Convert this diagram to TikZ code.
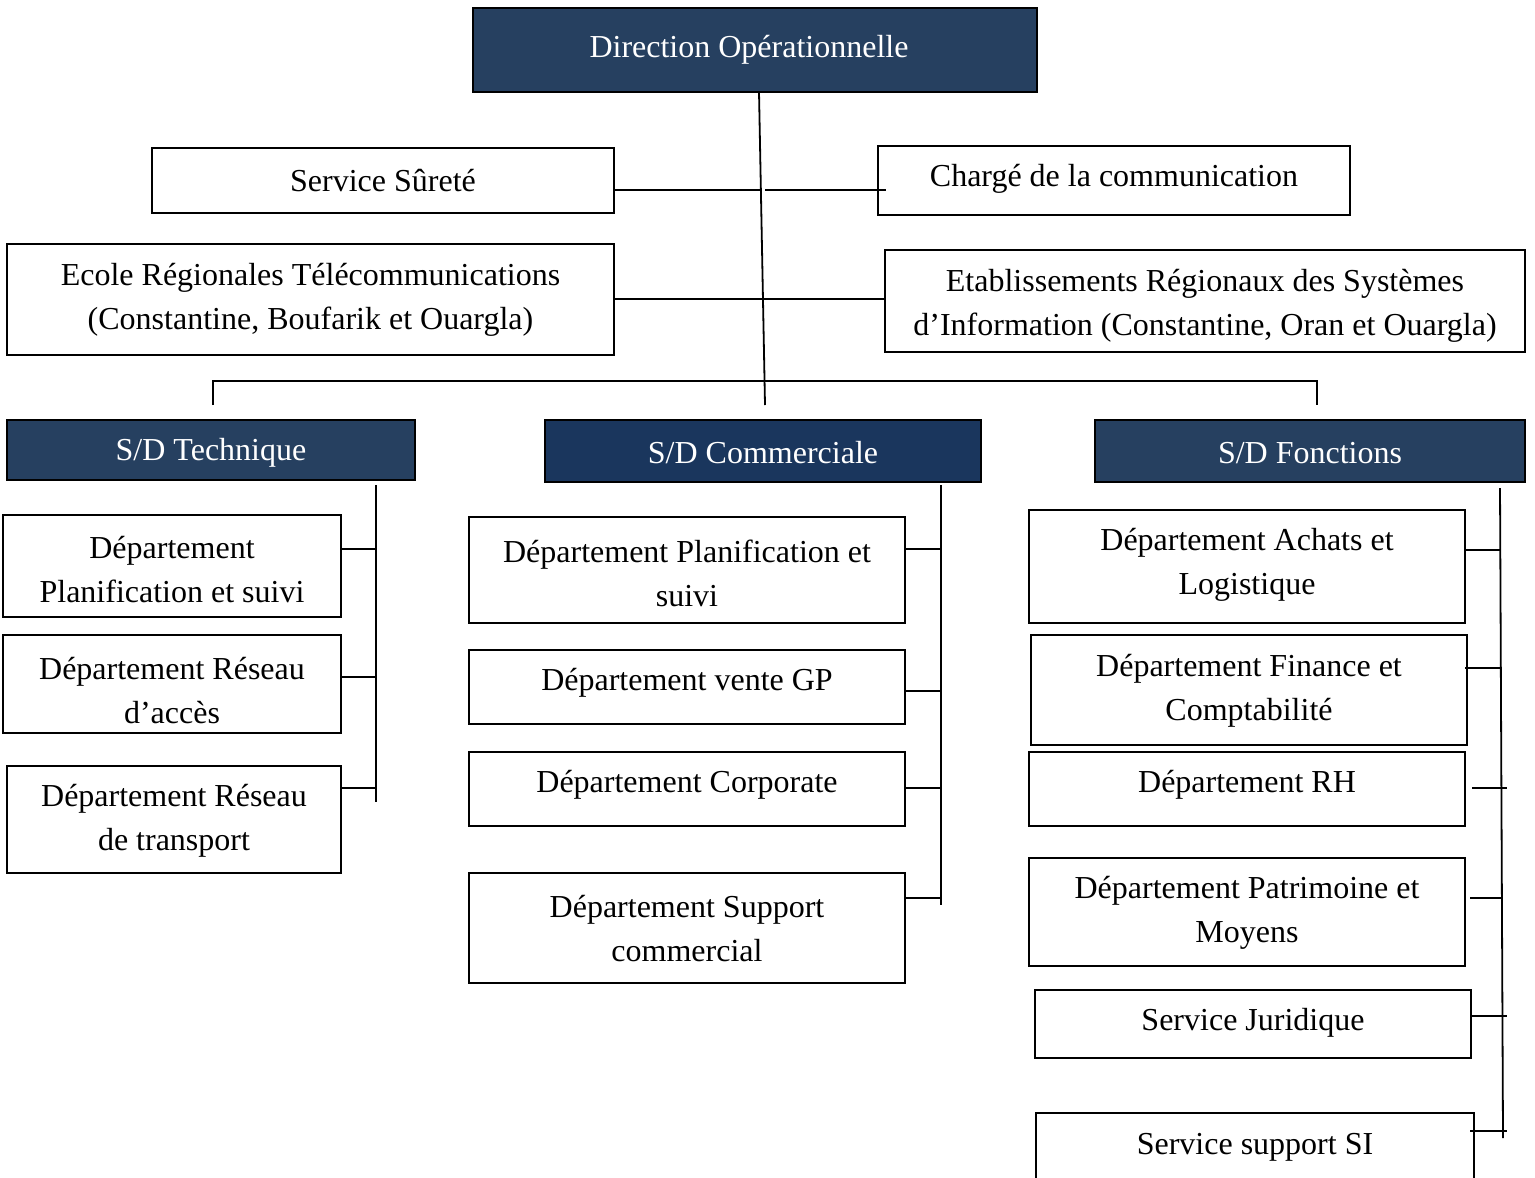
\documentclass[tikz,border=0pt]{standalone}
\usepackage{fontspec}
\setmainfont{Liberation Serif}
\definecolor{dirblue}{RGB}{38,64,96}
\definecolor{comblue}{RGB}{26,54,93}
\tikzset{
  box/.style={draw=black,line width=1pt,fill=white,inner sep=0pt},
  darkbox/.style={box,fill=dirblue},
  txt/.style={align=center,inner sep=0pt,font=\fontsize{16}{22}\selectfont},
  conn/.style={draw=black,line width=0.9pt},
}
% [style]{name}{x1}{y1}{x2}{y2}{text centre y}{text}
\newcommand\bx[8][]{%
  \pgfmathsetmacro\bxcx{(#3+#5)/2}\pgfmathsetmacro\bxcy{(#4+#6)/2}%
  \pgfmathsetmacro\bxw{(#5-#3)*0.5}\pgfmathsetmacro\bxh{(#6-#4)*0.5}%
  \pgfmathsetmacro\bxty{#7+3}%
  \node[box,minimum width=\bxw pt,minimum height=\bxh pt,#1] (#2) at (\bxcx,\bxcy) {};%
  \node[txt,text=\bxtextcol] (#2-t) at (\bxcx+\bxtdx,\bxty) {#8};}
\def\bxtextcol{black}
\def\bxtdx{0}
\begin{document}
\begin{tikzpicture}[x=0.5pt,y=-0.5pt]
\useasboundingbox (0,0) rectangle (1535,1177);
\clip (0,0) rectangle (1535,1177);
% top
\def\bxtextcol{white}
\def\bxtdx{-6}
\bx[darkbox]{dir}{473}{8}{1037}{92}{47}{Direction Opérationnelle}
\def\bxtdx{0}
\bx[darkbox]{sdt}{7}{420}{415}{480}{450}{S/D Technique}
\bx[darkbox,fill=comblue]{sdc}{545}{420}{981}{482}{450}{S/D Commerciale}
\bx[darkbox]{sdf}{1095}{420}{1525}{482}{450}{S/D Fonctions}
\def\bxtextcol{black}
\bx{sur}{152}{148}{614}{213}{178}{Service Sûreté}
\bx{com}{878}{146}{1350}{215}{176}{Chargé de la communication}
\bx{eco}{7}{244}{614}{355}{297}{Ecole Régionales Télécommunications\\(Constantine, Boufarik et Ouargla)}
\bx{eta}{885}{250}{1525}{352}{303}{Etablissements Régionaux des Systèmes\\d’Information (Constantine, Oran et Ouargla)}
% technique
\bx{t1}{3}{515}{341}{617}{567}{Département\\Planification et suivi}
\bx{t2}{3}{635}{341}{733}{688}{Département Réseau\\d’accès}
\bx{t3}{7}{766}{341}{873}{818}{Département Réseau\\de transport}
% commerciale
\bx{c1}{469}{517}{905}{623}{570}{Département Planification et\\suivi}
\bx{c2}{469}{650}{905}{724}{680}{Département vente GP}
\bx{c3}{469}{752}{905}{826}{782}{Département Corporate}
\bx{c4}{469}{873}{905}{983}{926}{Département Support\\commercial}
% fonctions
\bx{f1}{1029}{510}{1465}{623}{562}{Département Achats et\\Logistique}
\bx{f2}{1031}{635}{1467}{745}{688}{Département Finance et\\Comptabilité}
\bx{f3}{1029}{752}{1465}{826}{782}{Département RH}
\bx{f4}{1029}{858}{1465}{966}{910}{Département Patrimoine et\\Moyens}
\bx{f5}{1035}{990}{1471}{1058}{1020}{Service Juridique}
\bx[draw=none]{f6}{1037}{1114}{1473}{1174}{1144}{Service support SI}
\draw[line width=1pt] (f6.west |- 0,1190) -- (f6.north west) -- (f6.north east) -- (f6.east |- 0,1190);
% connectors: trunk
\coordinate (tt) at (759,92);
\coordinate (tb) at (765,405);
\coordinate (g1) at (760.8,190);
\coordinate (g2) at (765,190);
\coordinate (cx) at (886,190);
\path[conn] (tt) -- (tb);
\path[conn] (sur.east |- 0,190) -- (g1);
\path[conn] (g2) -- (cx);
\path[conn] (eco.east |- 0,299) -- (eta.west |- 0,299);
\coordinate (bl) at (213,405);
\coordinate (br) at (1317,405);
\path[conn] (bl) -- (213,381) -- (1317,381) -- (br);
% technique
\coordinate (tTop) at (376,485);
\coordinate (tBot) at (376,802);
\path[conn] (tTop) -- (tBot);
\path[conn] (t1.east |- 0,549) -- (tTop |- 0,549);
\path[conn] (t2.east |- 0,677) -- (tTop |- 0,677);
\path[conn] (t3.east |- 0,788) -- (tTop |- 0,788);
% commerciale
\coordinate (cTop) at (941,485);
\coordinate (cBot) at (941,905);
\path[conn] (cTop) -- (cBot);
\path[conn] (c1.east |- 0,549) -- (cTop |- 0,549);
\path[conn] (c2.east |- 0,691) -- (cTop |- 0,691);
\path[conn] (c3.east |- 0,788) -- (cTop |- 0,788);
\path[conn] (c4.east |- 0,898) -- (cTop |- 0,898);
% fonctions
\coordinate (fTop) at (1500,488);
\coordinate (fBot) at (1503,1138);
\path[conn] (fTop) -- (fBot);
\path[conn] (f1.east |- 0,550) -- (1501,550);
\path[conn] (1465,668) -- (1501,668);
\path[conn] (1472,788) -- (1507,788);
\path[conn] (1470,898) -- (1502,898);
\path[conn] (f5.east |- 0,1016) -- (1507,1016);
\path[conn] (1470,1131) -- (1507,1131);
\end{tikzpicture}
\end{document}
